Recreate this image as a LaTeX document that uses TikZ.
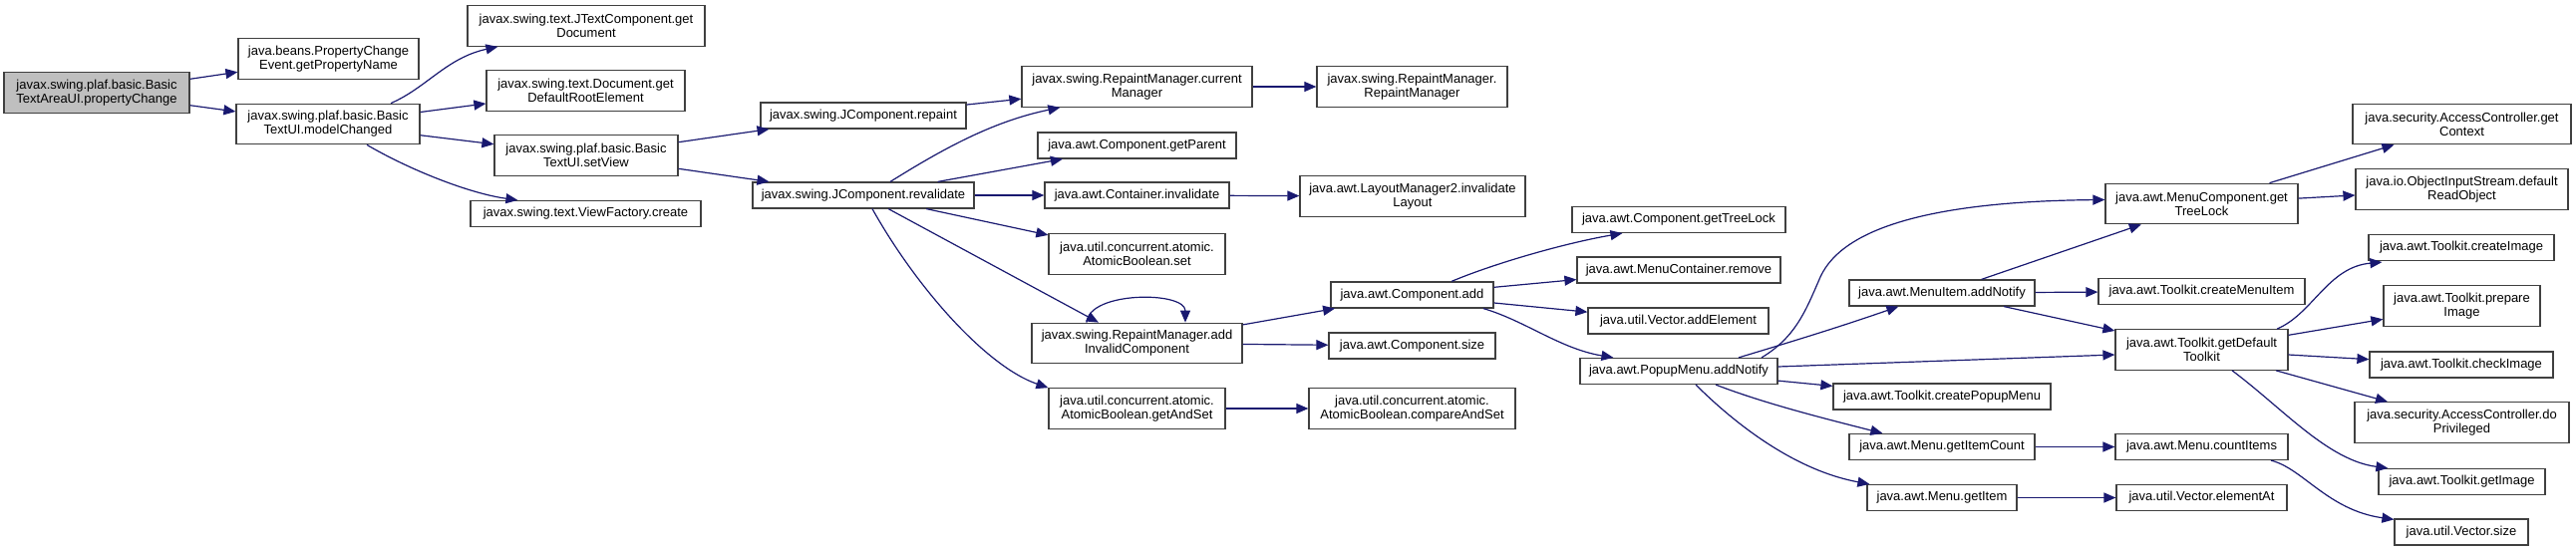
\documentclass[tikz,border=0pt]{standalone}
\usepackage{fontspec}
\setmainfont{Liberation Sans}
\usetikzlibrary{arrows.meta,calc}
\definecolor{edgeblue}{HTML}{191970}
\definecolor{boxline}{HTML}{404040}
\definecolor{rootfill}{HTML}{BFBFBF}
\tikzset{
  box/.style={draw=boxline, line width=1.2pt, fill=white, inner sep=0pt, align=center,
    font=\fontsize{13}{13.8}\selectfont, minimum height=26pt},
  two/.style={minimum height=40.5pt},
  root/.style={fill=rootfill},
  call/.style={draw=edgeblue, line width=1.2pt, -{Triangle[length=12pt,width=10pt]}, fill=none}
}
\begin{document}
\begin{tikzpicture}[x=1pt,y=-1pt]
\useasboundingbox (0,0) rectangle (2584,553);
% nodes
\node[box,two,root,minimum width=186pt] (n0) at (97,93) {javax.swing.plaf.basic.Basic\\TextAreaUI.propertyChange};
\node[box,two,minimum width=181pt] (n1) at (329.5,59) {java.beans.PropertyChange\\Event.getPropertyName};
\node[box,two,minimum width=184pt] (n2) at (329,124.5) {javax.swing.plaf.basic.Basic\\TextUI.modelChanged};
\node[box,two,minimum width=238pt] (n3) at (588,26) {javax.swing.text.JTextComponent.get\\Document};
\node[box,two,minimum width=199pt] (n4) at (587.5,91) {javax.swing.text.Document.get\\DefaultRootElement};
\node[box,two,minimum width=184pt] (n5) at (588,156) {javax.swing.plaf.basic.Basic\\TextUI.setView};
\node[box,minimum width=231pt] (n6) at (587.5,214.5) {javax.swing.text.ViewFactory.create};
\node[box,minimum width=206pt] (n7) at (866,116) {javax.swing.JComponent.repaint};
\node[box,minimum width=222pt] (n8) at (866,196) {javax.swing.JComponent.revalidate};
\node[box,two,minimum width=231pt] (n9) at (1140.5,87) {javax.swing.RepaintManager.current\\Manager};
\node[box,two,minimum width=191pt] (n10) at (1416.5,87) {javax.swing.RepaintManager.\\RepaintManager};
\node[box,minimum width=199pt] (n11) at (1140.5,146) {java.awt.Component.getParent};
\node[box,minimum width=185pt] (n12) at (1140.5,196) {java.awt.Container.invalidate};
\node[box,two,minimum width=226pt] (n13) at (1417,197) {java.awt.LayoutManager2.invalidate\\Layout};
\node[box,two,minimum width=177pt] (n14) at (1140.5,255) {java.util.concurrent.atomic.\\AtomicBoolean.set};
\node[box,two,minimum width=211pt] (n15) at (1140.5,344.5) {javax.swing.RepaintManager.add\\InvalidComponent};
\node[box,two,minimum width=177pt] (n16) at (1140.5,410) {java.util.concurrent.atomic.\\AtomicBoolean.getAndSet};
\node[box,minimum width=163pt] (n17) at (1416.5,296) {java.awt.Component.add};
\node[box,minimum width=167pt] (n18) at (1416.5,347) {java.awt.Component.size};
\node[box,two,minimum width=207pt] (n19) at (1416.5,410) {java.util.concurrent.atomic.\\AtomicBoolean.compareAndSet};
\node[box,minimum width=214pt] (n20) at (1684,220.5) {java.awt.Component.getTreeLock};
\node[box,minimum width=204pt] (n21) at (1684,271) {java.awt.MenuContainer.remove};
\node[box,minimum width=181pt] (n22) at (1683.5,322) {java.util.Vector.addElement};
\node[box,minimum width=198pt] (n23) at (1684,372.5) {java.awt.PopupMenu.addNotify};
\node[box,minimum width=186pt] (n24) at (1948,294) {java.awt.MenuItem.addNotify};
\node[box,minimum width=218pt] (n25) at (1948,398) {java.awt.Toolkit.createPopupMenu};
\node[box,minimum width=186pt] (n26) at (1948,448.5) {java.awt.Menu.getItemCount};
\node[box,minimum width=150pt] (n27) at (1948,499.5) {java.awt.Menu.getItem};
\node[box,two,minimum width=193pt] (n28) at (2208.5,204.5) {java.awt.MenuComponent.get\\TreeLock};
\node[box,two,minimum width=219pt] (n29) at (2469.5,124.5) {java.security.AccessController.get\\Context};
\node[box,two,minimum width=213pt] (n30) at (2469.5,190) {java.io.ObjectInputStream.default\\ReadObject};
\node[box,minimum width=186pt] (n31) at (2469,248.5) {java.awt.Toolkit.createImage};
\node[box,minimum width=207pt] (n32) at (2208.5,292.5) {java.awt.Toolkit.createMenuItem};
\node[box,two,minimum width=173pt] (n33) at (2208.5,351) {java.awt.Toolkit.getDefault\\Toolkit};
\node[box,two,minimum width=157pt] (n34) at (2469.5,307) {java.awt.Toolkit.prepare\\Image};
\node[box,minimum width=184pt] (n35) at (2469,366) {java.awt.Toolkit.checkImage};
\node[box,two,minimum width=215pt] (n36) at (2469.5,424) {java.security.AccessController.do\\Privileged};
\node[box,minimum width=167pt] (n37) at (2469.5,483.5) {java.awt.Toolkit.getImage};
\node[box,minimum width=173pt] (n38) at (2208.5,448.5) {java.awt.Menu.countItems};
\node[box,minimum width=171pt] (n39) at (2208.5,499.5) {java.util.Vector.elementAt};
\node[box,minimum width=134pt] (n40) at (2469,534) {java.util.Vector.size};
% edges
\draw[call] (n0) -- (n1);
\draw[call] (n0) -- (n2);
\draw[call] ($(n2.north)+(63,0)$) .. controls (428,88) and (448,58) .. ($(n3.south west)+(31,0)$);
\draw[call] (n2) -- (n4);
\draw[call] (n2) -- (n5);
\draw[call] ($(n2.south)+(39,0)$) .. controls (410,170) and (470,194) .. ($(n6.north west)+(48,0)$);
\draw[call] (n5) -- (n7);
\draw[call] (n5) -- (n8);
\draw[call] (n7) -- (n9);
\draw[call] ($(n8.north)+(27,0)$) .. controls (945,150) and (995,122) .. ($(n9.south west)+(39,0)$);
\draw[call] (n8) -- (n11);
\draw[call] (n8) -- (n12);
\draw[call] (n8) -- (n14);
\draw[call] (n8) -- (n15);
\draw[call] ($(n8.south)+(9,0)$) .. controls (920,290) and (990,368) .. (n16.north west);
\draw[call] (n9) -- (n10);
\draw[call] (n12) -- (n13);
\draw[call] ($(n15.north)+(-50.5,0)$) .. controls (1092,292) and (1189,292) .. ($(n15.north)+(48.5,0)$);
\draw[call] (n15) -- (n17);
\draw[call] (n15) -- (n18);
\draw[call] (n16) -- (n19);
\draw[call] ($(n17.north)+(39.5,0)$) .. controls (1500,264) and (1570,244) .. ($(n20.south west)+(51,0)$);
\draw[call] (n17) -- (n21);
\draw[call] (n17) -- (n22);
\draw[call] ($(n17.south)+(71.5,0)$) .. controls (1530,322) and (1565,350) .. ($(n23.north west)+(34,0)$);
\draw[call] ($(n23.north)+(83,0)$) .. controls (1802,338) and (1812,310) .. (1826,278) .. controls (1850,225) and (1950,202) .. ($(n28.west)+(0,-4)$);
\draw[call] ($(n23.north)+(60,0)$) .. controls (1790,345) and (1840,330) .. ($(n24.south west)+(50,0)$);
\draw[call] ($(n23.east)+(0,-4.5)$) -- ($(n33.west)+(0,5)$);
\draw[call] (n23) -- (n25);
\draw[call] ($(n23.south)+(37,0)$) .. controls (1770,405) and (1830,420) .. ($(n26.north west)+(34,0)$);
\draw[call] ($(n23.south)+(17,0)$) .. controls (1740,425) and (1800,472) .. ($(n27.north west)+(3,0)$);
\draw[call] (n24) -- (n28);
\draw[call] (n24) -- (n32);
\draw[call] (n24) -- (n33);
\draw[call] (n26) -- (n38);
\draw[call] (n27) -- (n39);
\draw[call] ($(n38.south)+(69.5,0)$) .. controls (2310,470) and (2335,512) .. ($(n40.north west)+(0,1)$);
\draw[call] (n28) -- (n29);
\draw[call] (n28) -- (n30);
\draw[call] ($(n33.north)+(75.5,0)$) .. controls (2320,315) and (2335,268) .. ($(n31.south west)+(14,1)$);
\draw[call] (n33) -- (n34);
\draw[call] (n33) -- (n35);
\draw[call] (n33) -- (n36);
\draw[call] ($(n33.south)+(30.5,0)$) .. controls (2290,410) and (2335,462) .. ($(n37.north west)+(10,0)$);
\end{tikzpicture}
\end{document}
